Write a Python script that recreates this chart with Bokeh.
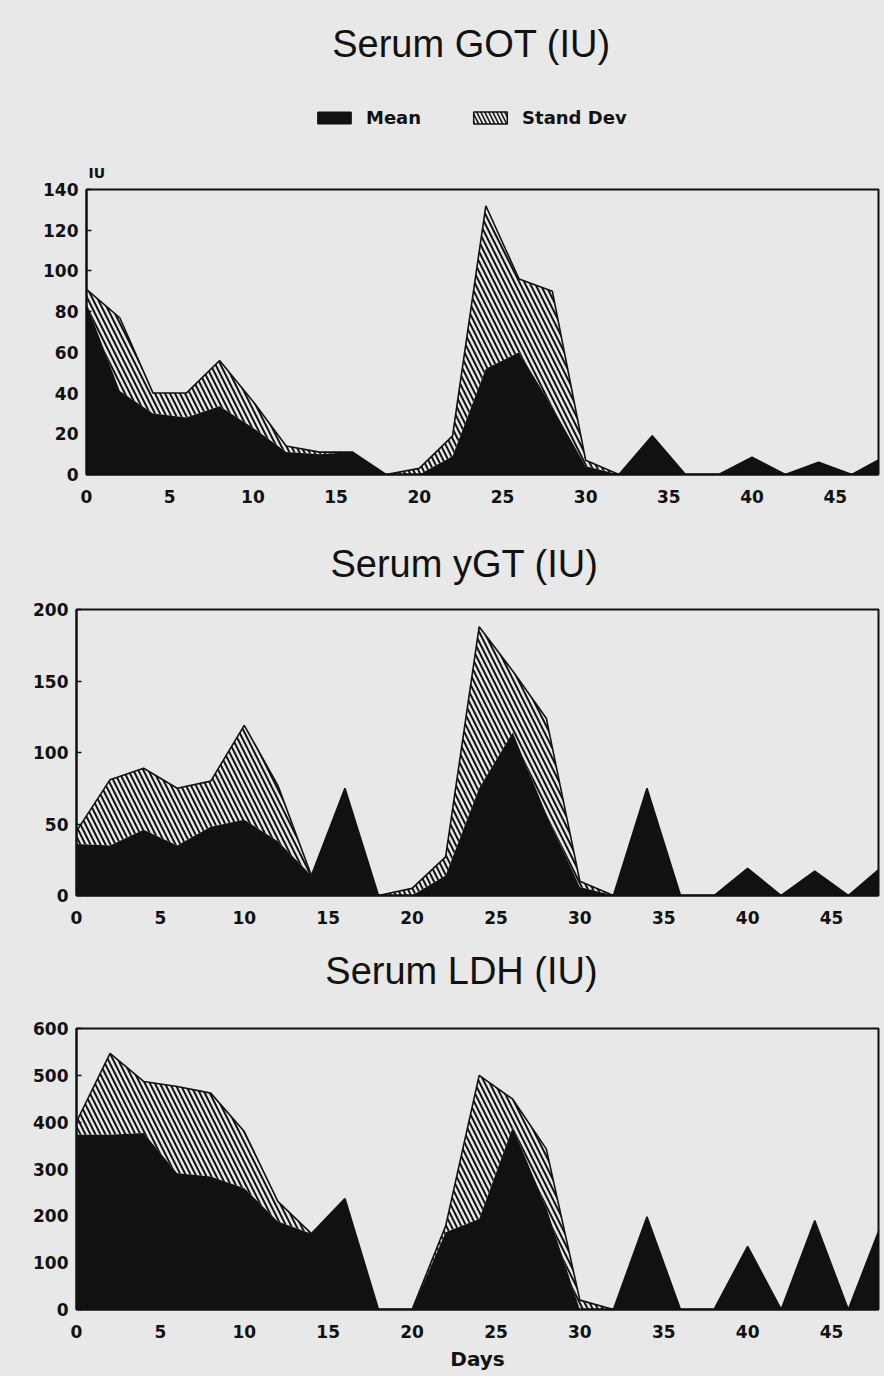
from bokeh.plotting import figure
from bokeh.models import ColumnDataSource, Label, Legend, LegendItem, Range1d, FixedTicker
from bokeh.layouts import column
from bokeh.embed import file_html
from bokeh.resources import INLINE

# ---------------- data ----------------
days = [0, 2, 4, 6, 8, 10, 12, 14, 16, 18, 20, 22, 24, 26, 28, 30, 32, 34, 36, 38, 40, 42, 44, 46, 48]

got_mean = [84, 41, 30, 28, 33.5, 23, 11, 10, 11, 0, 0, 9, 52, 60, 33, 4, 0, 19, 0, 0, 8.5, 0, 6, 0, 9]
got_sd = [7, 36, 10, 12, 22.5, 13, 3, 1, 0, 0, 3, 10, 80, 36, 57, 3, 0, 0, 0, 0, 0, 0, 0, 0, 0]

ygt_mean = [36, 35, 46, 35, 48, 53, 38, 14, 75, 0, 0, 14, 75, 114, 57, 6, 0, 75, 0, 0, 19, 0, 17, 0, 20]
ygt_sd = [9, 46, 43, 40, 32, 66, 39, 0, 0, 0, 5, 13, 113, 43, 67, 4, 0, 0, 0, 0, 0, 0, 0, 0, 0]

ldh_mean = [373, 373, 377, 291, 284, 259, 188, 162, 237, 0, 0, 165, 193, 389, 218, 0, 0, 198, 0, 0, 135, 0, 190, 0, 185]
ldh_sd = [28, 174, 110, 185, 178, 121, 43, 0, 0, 0, 0, 13, 307, 60, 125, 20, 0, 0, 0, 0, 0, 0, 0, 0, 0]

x_ticks = [0, 5, 10, 15, 20, 25, 30, 35, 40, 45]
got_ticks = [0, 20, 40, 60, 80, 100, 120, 140]
ygt_ticks = [0, 50, 100, 150, 200]
ldh_ticks = [0, 100, 200, 300, 400, 500, 600]

titles = ["Serum GOT (IU)", "Serum yGT (IU)", "Serum LDH (IU)"]
legend_labels = ["Mean", "Stand Dev"]
unit_label = "IU"
x_label = "Days"

# ---------------- style ----------------
BG = "#e8e8e8"
INK = "#111111"
TICK_FONT = "DejaVu Sans"
TITLE_FONT = "Liberation Sans"
W = 884
NAN = float("nan")


def header(height, title, title_x, title_y):
    """Blank strip (frame = whole canvas, pixel units, y from top) holding a title."""
    h = figure(width=W, height=height, output_backend="svg", toolbar_location=None,
               x_range=Range1d(0, W), y_range=Range1d(height, 0),
               x_axis_location=None, y_axis_location=None, frame_align=False,
               min_border=0, min_border_left=0, min_border_right=0,
               min_border_top=0, min_border_bottom=0)
    h.background_fill_color = BG
    h.border_fill_color = BG
    h.outline_line_color = None
    h.grid.visible = False
    h.add_layout(Label(x=title_x, y=title_y, text=title, text_align="center",
                       text_baseline="middle", text_font=TITLE_FONT,
                       text_font_size="38px", text_color=INK))
    return h


def chart(mean, sd, yticks, height, border_top, border_bottom, border_left, x_end, xlabel=None):
    upper = [m + s for m, s in zip(mean, sd)]
    src = ColumnDataSource(dict(x=days, mean=mean, upper=upper))
    p = figure(width=W, height=height, output_backend="svg", toolbar_location=None,
               x_range=Range1d(0, x_end), y_range=Range1d(0, yticks[-1]),
               frame_align=False,
               min_border_top=border_top, min_border_bottom=border_bottom,
               min_border_left=border_left, min_border_right=W - 878)
    p.background_fill_color = BG
    p.border_fill_color = BG
    p.outline_line_color = INK
    p.outline_line_width = 2
    p.grid.visible = False

    p.varea(x="x", y1=0, y2="mean", source=src, fill_color=INK)
    p.varea(x="x", y1="mean", y2="upper", source=src, fill_alpha=0,
            hatch_pattern="\\", hatch_color=INK, hatch_scale=10, hatch_weight=2)
    p.line(x="x", y="upper", source=src, line_color=INK, line_width=1.6)

    for ax in (p.xaxis[0], p.yaxis[0]):
        ax.axis_line_color = INK
        ax.axis_line_width = 2
        ax.minor_tick_line_color = None
        ax.major_label_text_font = TICK_FONT
        ax.major_label_text_font_style = "bold"
        ax.major_label_text_font_size = "17px"
        ax.major_label_text_color = INK
    p.xaxis.ticker = FixedTicker(ticks=x_ticks)
    p.xaxis.major_tick_line_color = None
    p.xaxis.major_label_standoff = 9
    p.yaxis.ticker = FixedTicker(ticks=yticks)
    p.yaxis.major_tick_in = 5
    p.yaxis.major_tick_out = 0
    p.yaxis.major_tick_line_color = INK
    p.yaxis.major_tick_line_width = 1.5
    p.yaxis.major_label_standoff = 8
    if xlabel:
        p.xaxis.axis_label = xlabel
        p.xaxis.axis_label_text_font = TICK_FONT
        p.xaxis.axis_label_text_font_style = "bold"
        p.xaxis.axis_label_text_font_size = "20px"
        p.xaxis.axis_label_text_color = INK
        p.xaxis.axis_label_standoff = 6
    return p


# --- header of chart 1: title, legend, unit ---
h1 = header(180, titles[0], 471, 43)
h1.add_layout(Label(x=88, y=172, text=unit_label, text_align="left", text_baseline="middle",
                    text_font=TICK_FONT, text_font_style="bold", text_font_size="14px",
                    text_color=INK))
swatch = ColumnDataSource(dict(l=[NAN], r=[NAN], t=[NAN], b=[NAN]))
mean_sw = h1.quad(left="l", right="r", top="t", bottom="b", source=swatch,
                  fill_color=INK, line_color=INK)
sd_sw = h1.quad(left="l", right="r", top="t", bottom="b", source=swatch,
                fill_color=BG, line_color=INK, line_width=1.5, hatch_pattern="\\",
                hatch_color=INK, hatch_scale=8, hatch_weight=1.5)
legend = Legend(items=[LegendItem(label=legend_labels[0], renderers=[mean_sw]),
                       LegendItem(label=legend_labels[1], renderers=[sd_sw])],
                location=(313, 52), orientation="horizontal",
                glyph_width=42, glyph_height=15, label_standoff=11, spacing=48,
                padding=0, margin=0, border_line_color=None, background_fill_alpha=0,
                label_text_font=TICK_FONT, label_text_font_style="bold",
                label_text_font_size="18px", label_text_color=INK)
h1.add_layout(legend, "center")

p1 = chart(got_mean, got_sd, got_ticks, 350, 9, 56, 86, 47.6)
h2 = header(60, titles[1], 464, 33)
p2 = chart(ygt_mean, ygt_sd, ygt_ticks, 355, 19, 50, 76, 47.8)
h3 = header(55, titles[2], 461, 25)
p3 = chart(ldh_mean, ldh_sd, ldh_ticks, 376, 28, 67, 76, 47.8, xlabel=x_label)

layout = column(h1, p1, h2, p2, h3, p3, spacing=0, styles={"background-color": BG})
open("out.html", "w").write(file_html(layout, INLINE))
